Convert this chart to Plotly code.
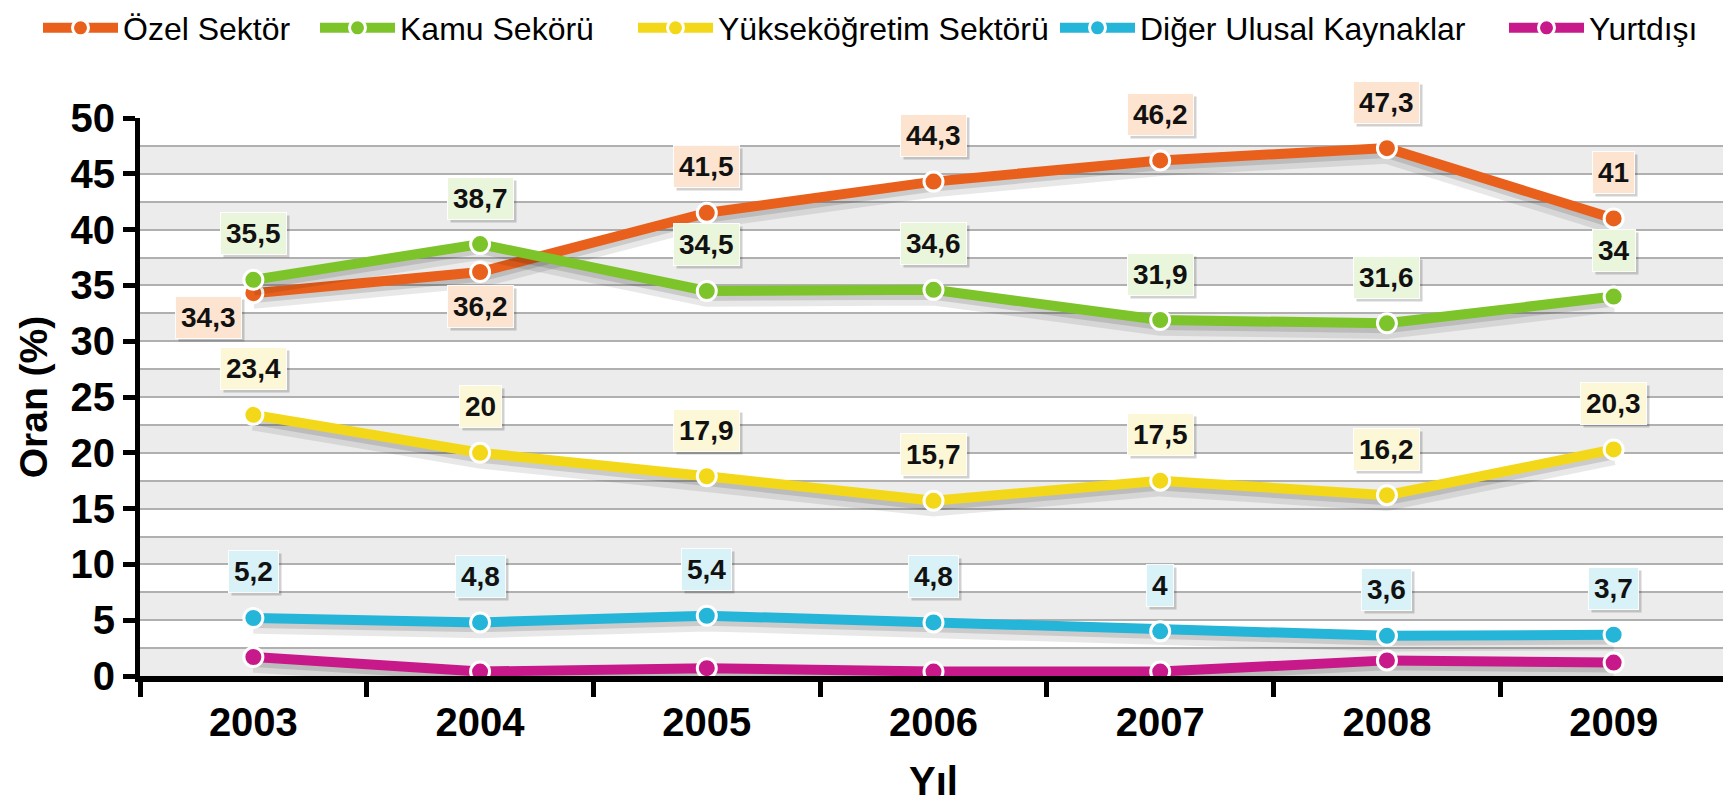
import plotly.graph_objects as go

years = [2003, 2004, 2005, 2006, 2007, 2008, 2009]
year_labels = ["2003", "2004", "2005", "2006", "2007", "2008", "2009"]
ozel = [34.3, 36.2, 41.5, 44.3, 46.2, 47.3, 41]
kamu = [35.5, 38.7, 34.5, 34.6, 31.9, 31.6, 34]
yuksek = [23.4, 20, 17.9, 15.7, 17.5, 16.2, 20.3]
diger = [5.2, 4.8, 5.4, 4.8, 4, 3.6, 3.7]
yurtdisi = [1.7, 0.4, 0.7, 0.4, 0.4, 1.4, 1.2]
yticks = [0, 5, 10, 15, 20, 25, 30, 35, 40, 45, 50]

FONT = "Liberation Sans, Arial, sans-serif"

series = [
    dict(name="Özel Sektör", y=ozel, color="#e8601c", box="#fde4d0", labels=True),
    dict(name="Kamu Sekörü", y=kamu, color="#7cc42a", box="#eaf6dc", labels=True),
    dict(name="Yükseköğretim Sektörü", y=yuksek, color="#f3d81a", box="#fcf7d6", labels=True),
    dict(name="Diğer Ulusal Kaynaklar", y=diger, color="#25b5d8", box="#d8f2f7", labels=True),
    dict(name="Yurtdışı", y=yurtdisi, color="#c8198a", box="#f7d6ea", labels=False),
]

# layout geometry
W, H = 1731, 803
ML, MR, MT, MB = 132, 12, 110, 135
PW, PH = W - ML - MR, H - MT - MB
legend_px = [35, 312, 630, 1052, 1501]   # left edge of each legend entry (pixels)
legend_py = 20                          # vertical centre of legend row (pixels)

# label offsets (pixels) for specific points; default is above the point
label_offsets = {("Özel Sektör", 0): (-45, -24), ("Özel Sektör", 1): (0, -34)}
DEFAULT_SHIFT = 46

fig = go.Figure()

for k, s in enumerate(series):
    lg = "legend" if k == 0 else f"legend{k + 1}"
    # soft drop shadow derived from the data values
    fig.add_trace(go.Scatter(
        x=years, y=[v - 0.6 for v in s["y"]], mode="lines",
        line=dict(color="rgba(0,0,0,0.09)", width=18), showlegend=False,
        hoverinfo="skip"))
    fig.add_trace(go.Scatter(
        x=years, y=[v - 0.35 for v in s["y"]], mode="lines",
        line=dict(color="rgba(0,0,0,0.12)", width=12), showlegend=False,
        hoverinfo="skip"))
    fig.add_trace(go.Scatter(
        x=years, y=s["y"], mode="lines+markers", name=s["name"], legend=lg,
        line=dict(color=s["color"], width=10),
        marker=dict(size=19, color=s["color"], line=dict(color="white", width=3)),
        cliponaxis=False))

annotations = []
for s in series:
    if not s["labels"]:
        continue
    for i, (yr, v) in enumerate(zip(years, s["y"])):
        dx, dy = label_offsets.get((s["name"], i), (0, DEFAULT_SHIFT))
        txt = f"{v:g}".replace(".", ",")
        # shadow box
        annotations.append(dict(
            x=yr, y=v, xref="x", yref="y", text=f"<b>{txt}</b>", showarrow=False,
            xshift=dx + 3, yshift=dy - 3,
            font=dict(family=FONT, size=28, color="rgba(0,0,0,0)"),
            bgcolor="rgba(0,0,0,0.18)", borderpad=5))
        annotations.append(dict(
            x=yr, y=v, xref="x", yref="y", text=f"<b>{txt}</b>", showarrow=False,
            xshift=dx, yshift=dy,
            font=dict(family=FONT, size=28, color="#111111"),
            bgcolor=s["box"], bordercolor="rgba(255,255,255,0.9)", borderwidth=1,
            borderpad=5))

# alternating light-gray background bands every 5 units (lower half)
shapes = []
for b in yticks[:-1]:
    shapes.append(dict(type="rect", xref="paper", yref="y", x0=0, x1=1,
                       y0=b, y1=b + 2.5, fillcolor="#ececec",
                       line=dict(width=0), layer="below"))

legends = {}
for k, px in enumerate(legend_px):
    key = "legend" if k == 0 else f"legend{k + 1}"
    legends[key] = dict(
        orientation="h", x=(px - 5 - ML) / PW, xanchor="left",
        y=1 + (MT - legend_py) / PH, yanchor="middle",
        font=dict(family=FONT, size=32, color="black"),
        itemwidth=75, itemsizing="trace", bgcolor="rgba(0,0,0,0)",
        borderwidth=0)

fig.update_layout(
    width=W, height=H,
    margin=dict(l=ML, r=MR, t=MT, b=MB, autoexpand=False),
    paper_bgcolor="white", plot_bgcolor="white",
    font=dict(family=FONT, color="black"),
    showlegend=True,
    annotations=annotations,
    shapes=shapes,
    **legends,
)

fig.update_xaxes(
    range=[2002.5, 2009.5], tickvals=years, ticktext=year_labels,
    ticks="", showline=True, linewidth=6, linecolor="black", showgrid=False,
    zeroline=False,
    minor=dict(tick0=2002.5, dtick=1, ticks="outside", ticklen=15, tickwidth=5,
               tickcolor="black", showgrid=False),
    tickfont=dict(family=FONT, size=40, color="black", weight="bold"),
    ticklabelstandoff=6,
    title=dict(text="<b>Yıl</b>", font=dict(family=FONT, size=40, color="black"),
               standoff=26),
)
fig.update_yaxes(
    range=[0, 50], tickvals=yticks, ticks="outside", ticklen=12, tickwidth=5,
    tickcolor="black", showline=True, linewidth=5, linecolor="black",
    showgrid=True, gridcolor="#b0b0b0", gridwidth=1.5, zeroline=False,
    minor=dict(dtick=2.5, showgrid=True, gridcolor="#b0b0b0", gridwidth=1.5, ticks=""),
    tickfont=dict(family=FONT, size=40, color="black", weight="bold"),
    title=dict(text="<b>Oran (%)</b>", font=dict(family=FONT, size=39, color="black"),
               standoff=12),
)

fig.write_html("out.html")
